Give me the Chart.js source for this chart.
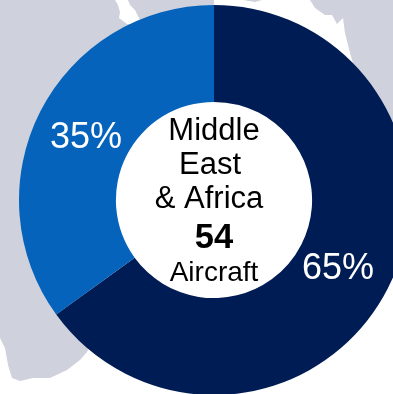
<!DOCTYPE html>
<html>
<head>
<meta charset="utf-8">
<title>Middle East & Africa fleet</title>
<script src="https://cdn.jsdelivr.net/npm/chart.js@4"></script>
<style>
    html, body { margin: 0; padding: 0; background: #fff; overflow: hidden; width: 393px; height: 394px; }
    #wrap { position: relative; width: 428px; height: 400px; }
</style>
</head>
<body>
<div id="wrap"><canvas id="donut"></canvas></div>
<script>
const regionLines = ['Middle', 'East', '& Africa'];
const aircraftTotal = '54';
const aircraftLabel = 'Aircraft';
const segments = ['Owned', 'Leased'];
const shares = [65, 35];
const segmentColors = ['#001c54', '#0563bb'];

const landColor = '#cfd2dc';
const fontFamily = '"Liberation Sans", Arial, sans-serif';

// outlines of the map behind the ring, they run on under it
const landShapes = [
    [[0, 0], [115, 0], [118, 5], [120, 12], [119, 18], [127, 24], [130, 24], [100, 120], [60, 200], [100, 320],
     [87, 352], [80, 360], [67, 370], [50, 378], [33, 378], [20, 381], [12, 378], [8, 365], [5, 348], [0, 338]],
    [[128, 0], [214, 0], [214, 8], [180, 30], [150, 40], [140, 20], [135, 10], [130, 5]],
    [[243, 0], [262, 0], [255, 2]],
    [[310, 0], [393, 0], [393, 135], [360, 110], [353, 63], [350, 53], [345, 33], [343, 18], [337, 24], [332, 15],
     [325, 15], [315, 8]]
];

const mapBackdrop = {
    id: 'mapBackdrop',
    beforeDraw(chart) {
        const ctx = chart.ctx;
        ctx.save();
        ctx.fillStyle = landColor;
        ctx.filter = 'blur(0.6px)';
        landShapes.forEach(shape => {
            ctx.beginPath();
            shape.forEach(([x, y], i) => i ? ctx.lineTo(x, y) : ctx.moveTo(x, y));
            ctx.closePath();
            ctx.fill();
        });
        ctx.restore();
    }
};

function drawText(ctx, text, x, y, font, color) {
    ctx.font = font;
    ctx.fillStyle = color;
    ctx.fillText(text, x, y);
}

const ringText = {
    id: 'ringText',
    afterDraw(chart) {
        const ctx = chart.ctx;
        const arcs = chart.getDatasetMeta(0).data;
        const cx = arcs[0].x;
        const cy = arcs[0].y;

        ctx.save();
        ctx.textAlign = 'center';
        ctx.textBaseline = 'alphabetic';

        // centre block, the two shorter lines sit a little left
        const lineFont = '31px ' + fontFamily;
        drawText(ctx, regionLines[0], cx, cy - 60, lineFont, '#000');
        drawText(ctx, regionLines[1], cx - 4, cy - 26, lineFont, '#000');
        drawText(ctx, regionLines[2], cx - 5, cy + 8, lineFont, '#000');
        drawText(ctx, aircraftTotal, cx, cy + 48, 'bold 34.5px ' + fontFamily, '#000');
        drawText(ctx, aircraftLabel, cx, cy + 81, '28px ' + fontFamily, '#000');

        // share labels
        const shareFont = '36px ' + fontFamily;
        drawText(ctx, shares[0] + '%', cx + 124, cy + 79, shareFont, '#fff');
        drawText(ctx, shares[1] + '%', cx - 128, cy - 52, shareFont, '#fff');
        ctx.restore();
    }
};

new Chart(document.getElementById('donut'), {
    type: 'doughnut',
    data: {
        labels: segments,
        datasets: [{ data: shares, backgroundColor: segmentColors, borderWidth: 0 }]
    },
    options: {
        responsive: true,
        maintainAspectRatio: false,
        animation: false,
        cutout: '50.3%',
        layout: { padding: { left: 19, right: 19, top: 5, bottom: 5 } },
        plugins: { legend: { display: false }, tooltip: { enabled: false } }
    },
    plugins: [mapBackdrop, ringText]
});
</script>
</body>
</html>
